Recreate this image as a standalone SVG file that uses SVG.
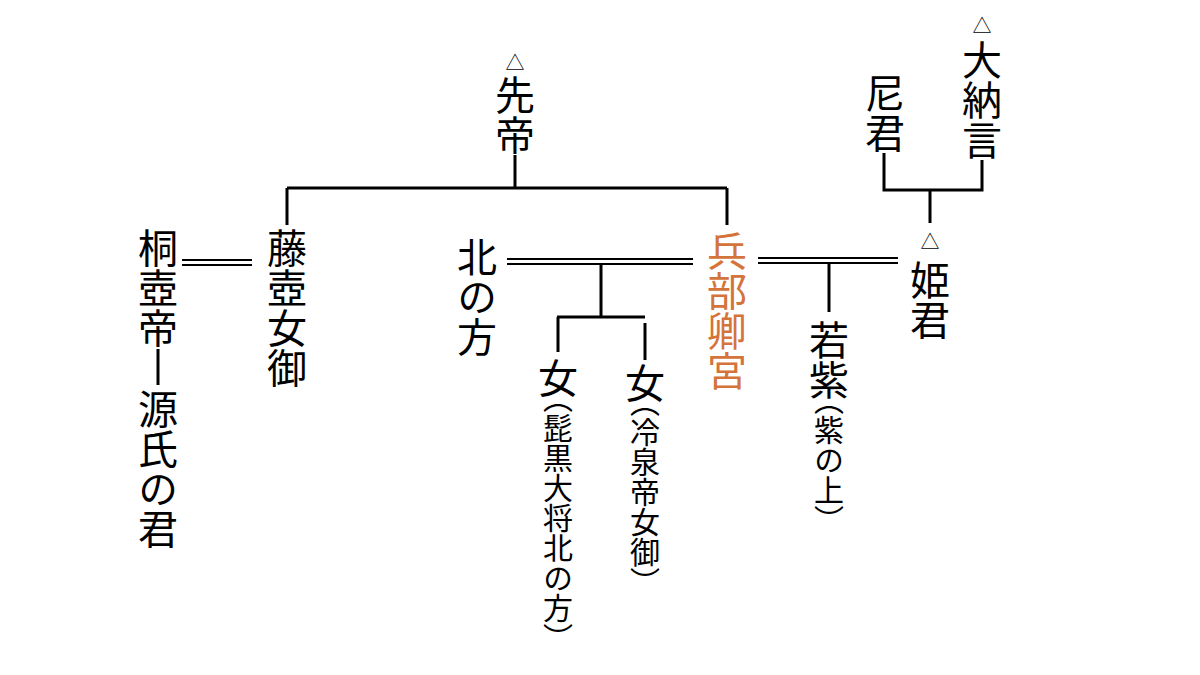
<svg xmlns="http://www.w3.org/2000/svg" width="1200" height="675" viewBox="0 0 1200 675">
<style>
.t{font-family:"Noto Sans CJK JP","Noto Sans CJK SC",sans-serif;font-size:40px;fill:#000;writing-mode:vertical-rl;}
.s{font-family:"Noto Sans CJK JP","Noto Sans CJK SC",sans-serif;font-size:30px;fill:#000;writing-mode:vertical-rl;font-feature-settings:"vhal" 1;}
.o{fill:#d4733a;}
.tri{font-family:"Noto Sans CJK JP","Noto Sans CJK SC",sans-serif;font-size:19px;fill:#000;text-anchor:middle;}
.ln{stroke:#000;stroke-width:3;fill:none;}
.dl{stroke:#000;stroke-width:2;fill:none;}
</style>
<rect width="1200" height="675" fill="#fff"/>
<g id="connectors">
<path class="ln" d="M515,155V188M287,188H727M287,188V225M727,188V225"/>
<path class="dl" d="M182,260H252M182,265H252"/>
<path class="ln" d="M158,349V385"/>
<path class="dl" d="M507,259H693M507,264H693"/>
<path class="ln" d="M601,264V317M557,317H645M558,317V352M645,323V360"/>
<path class="dl" d="M758,258H898M758,263H898"/>
<path class="ln" d="M829,263V312"/>
<path class="ln" d="M884,153V190H982V160M930,190V223"/>
</g>
<g id="sentei"><text class="tri" x="515" y="70">△</text><text class="t" x="515" y="75">先帝</text></g>
<g id="kiritsubo"><text class="t" x="158" y="228">桐壺帝</text></g>
<g id="genji"><text class="t" x="158" y="389">源氏の君</text></g>
<g id="fujitsubo"><text class="t" x="287" y="228">藤壺女御</text></g>
<g id="kitanokata"><text class="t" x="477" y="237">北の方</text></g>
<g id="hyobukyo"><text class="t o" x="727" y="231">兵部卿宮</text></g>
<g id="onna1"><text class="t" x="558" y="358">女</text><text class="s" x="558" y="398">（髭黒大将北の方）</text></g>
<g id="onna2"><text class="t" x="645" y="363">女</text><text class="s" x="645" y="402">（冷泉帝女御）</text></g>
<g id="wakamurasaki"><text class="t" x="829" y="320">若紫</text><text class="s" x="829" y="400">（紫の上）</text></g>
<g id="himegimi"><text class="tri" x="930" y="249">△</text><text class="t" x="930" y="260">姫君</text></g>
<g id="amagimi"><text class="t" x="885" y="73">尼君</text></g>
<g id="dainagon"><text class="tri" x="982" y="33">△</text><text class="t" x="982" y="40">大納言</text></g>
</svg>
